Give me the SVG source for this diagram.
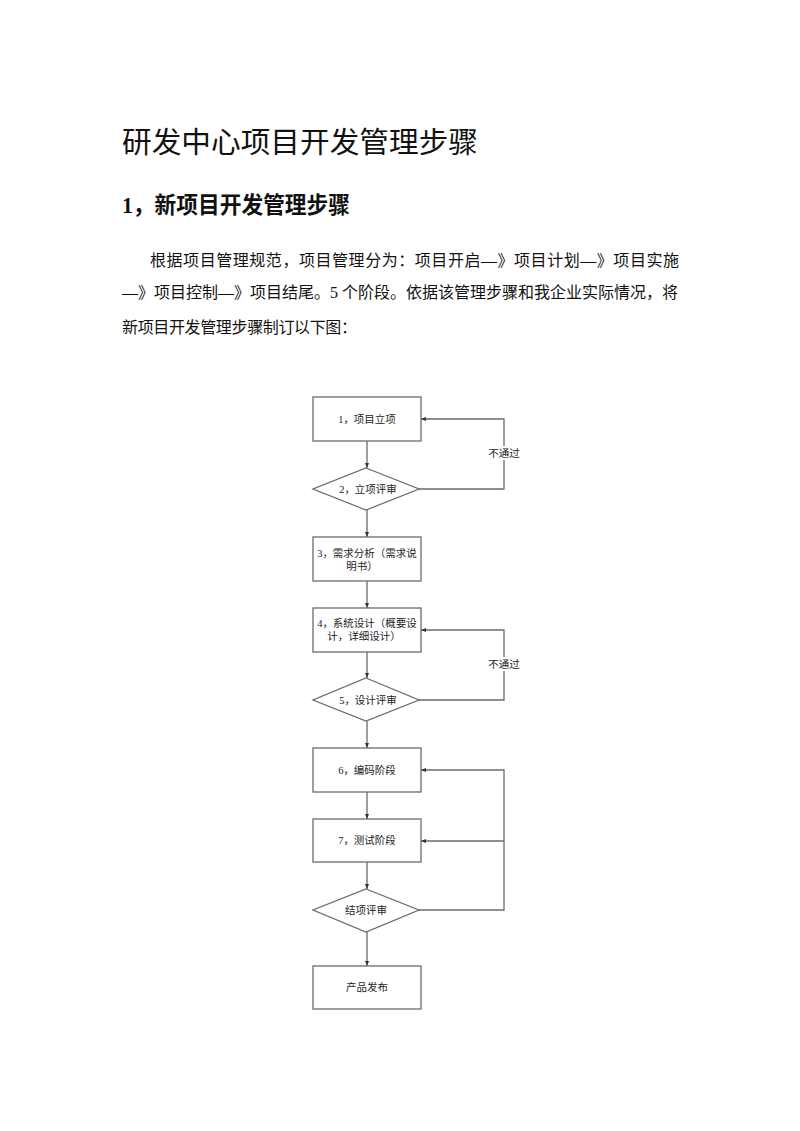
<svg xmlns="http://www.w3.org/2000/svg" width="800" height="1131" viewBox="0 0 800 1131">
<style>
.t{font-family:"Liberation Serif","Noto Sans CJK SC",serif;fill:#111}
.n{font-family:"Liberation Serif","Noto Sans CJK SC",serif;font-size:10.5px;fill:#222;text-anchor:middle}
.shape{fill:#fff;stroke:#6b6b6b;stroke-width:1.3}
.c{fill:none;stroke:#6b6b6b;stroke-width:1.3}
</style>
<defs>
<marker id="ah" viewBox="0 0 10 10" refX="10" refY="5" markerWidth="5" markerHeight="5" orient="auto" markerUnits="userSpaceOnUse">
<path d="M0,1 L10,5 L0,9 z" fill="#333"/>
</marker>
</defs>
<rect width="800" height="1131" fill="#fff"/>
<text class="t" x="122" y="153" font-size="29" textLength="356" lengthAdjust="spacingAndGlyphs">研发中心项目开发管理步骤</text>
<text class="t" x="122" y="213" font-size="23" font-weight="bold" textLength="228" lengthAdjust="spacingAndGlyphs">1，新项目开发管理步骤</text>
<text class="t" x="150" y="266" font-size="16" textLength="529" lengthAdjust="spacing">根据项目管理规范，项目管理分为：项目开启—》项目计划—》项目实施</text>
<text class="t" x="122" y="298" font-size="16" textLength="556" lengthAdjust="spacing">—》项目控制—》项目结尾。5 个阶段。依据该管理步骤和我企业实际情况，将</text>
<text class="t" x="122" y="333" font-size="16" textLength="235" lengthAdjust="spacing">新项目开发管理步骤制订以下图：</text>

<g id="connectors">
<line class="c" x1="367" y1="441" x2="367" y2="468" marker-end="url(#ah)"/>
<line class="c" x1="367" y1="510" x2="367" y2="537" marker-end="url(#ah)"/>
<line class="c" x1="367" y1="581" x2="367" y2="608" marker-end="url(#ah)"/>
<line class="c" x1="367" y1="652" x2="367" y2="678" marker-end="url(#ah)"/>
<line class="c" x1="367" y1="721" x2="367" y2="748" marker-end="url(#ah)"/>
<line class="c" x1="367" y1="792" x2="367" y2="819" marker-end="url(#ah)"/>
<line class="c" x1="367" y1="862" x2="367" y2="889" marker-end="url(#ah)"/>
<line class="c" x1="367" y1="932" x2="367" y2="966" marker-end="url(#ah)"/>
<polyline class="c" points="419,489 504,489 504,419 421,419" marker-end="url(#ah)"/>
<polyline class="c" points="419,700 504,700 504,630 421,630" marker-end="url(#ah)"/>
<polyline class="c" points="419,910 504,910 504,770 421,770" marker-end="url(#ah)"/>
<line class="c" x1="504" y1="841" x2="421" y2="841" marker-end="url(#ah)"/>
<rect x="487" y="446" width="34" height="14" fill="#fff"/>
<text class="n" x="504" y="457">不通过</text>
<rect x="487" y="657" width="34" height="14" fill="#fff"/>
<text class="n" x="504" y="668">不通过</text>
</g>

<g id="n1"><rect class="shape" x="313" y="397" width="108" height="44"/><text class="n" x="367" y="423">1，项目立项</text></g>
<g id="n2"><polygon class="shape" points="366,468 419,489 366,510 313,489"/><text class="n" x="368" y="493">2，立项评审</text></g>
<g id="n3"><rect class="shape" x="313" y="537" width="108" height="44"/><text class="n" x="367" y="557">3，需求分析（需求说</text><text class="n" x="362" y="570">明书）</text></g>
<g id="n4"><rect class="shape" x="313" y="608" width="108" height="44"/><text class="n" x="367" y="627">4，系统设计（概要设</text><text class="n" x="364" y="640">计，详细设计）</text></g>
<g id="n5"><polygon class="shape" points="366,678 419,700 366,721 313,700"/><text class="n" x="368" y="704">5，设计评审</text></g>
<g id="n6"><rect class="shape" x="313" y="748" width="108" height="44"/><text class="n" x="367" y="774">6，编码阶段</text></g>
<g id="n7"><rect class="shape" x="313" y="819" width="108" height="43"/><text class="n" x="367" y="844">7，测试阶段</text></g>
<g id="n8"><polygon class="shape" points="366,889 419,910 366,932 313,910"/><text class="n" x="366" y="914">结项评审</text></g>
<g id="n9"><rect class="shape" x="313" y="966" width="108" height="43"/><text class="n" x="367" y="991">产品发布</text></g>
</svg>
